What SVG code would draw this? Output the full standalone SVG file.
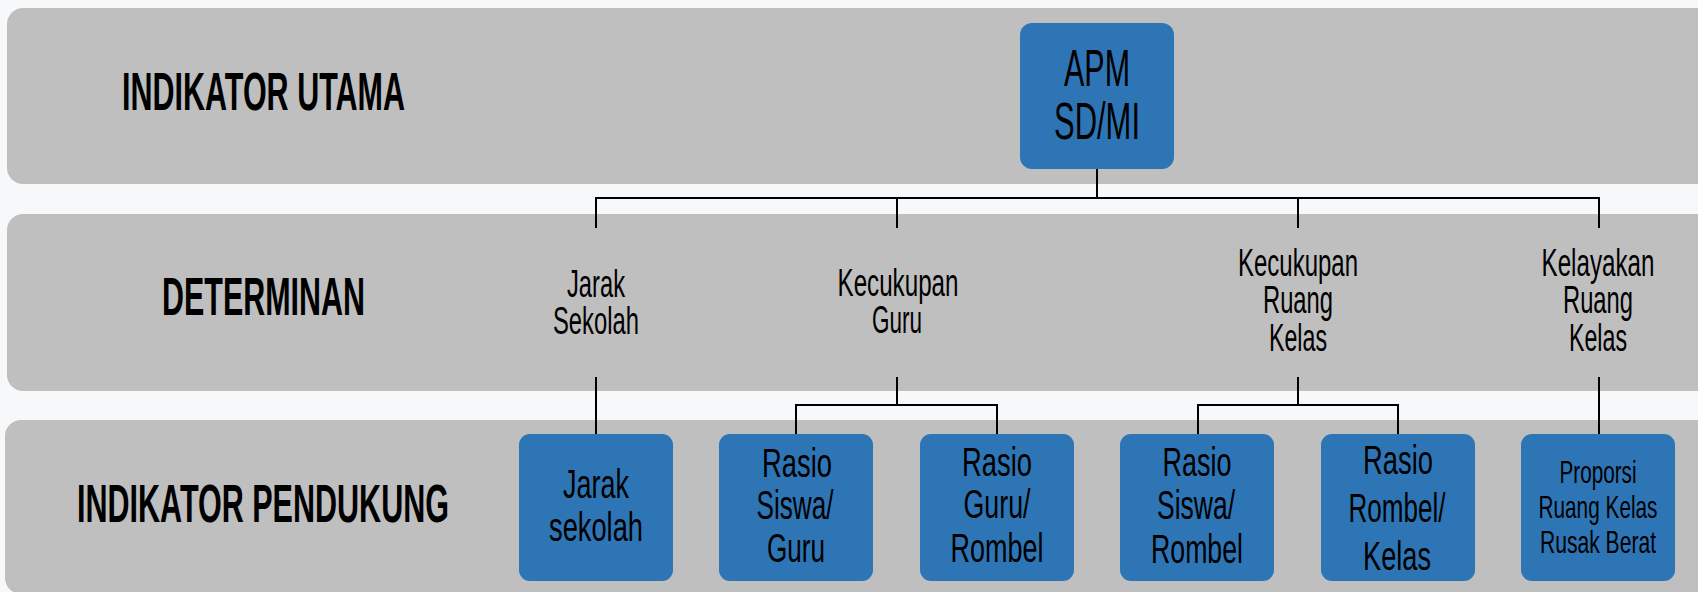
<svg xmlns="http://www.w3.org/2000/svg" width="1698" height="592" viewBox="0 0 1698 592">
  <style>
    .band { fill: #bfbfbf; }
    .box { fill: #2e75b6; }
    .hdr { font-family: "Liberation Sans", Arial, sans-serif; font-weight: bold; font-size: 54px; fill: #000; }
    .det { font-family: "Liberation Sans", Arial, sans-serif; font-size: 38px; fill: #000; text-anchor: middle; }
    .top { font-family: "Liberation Sans", Arial, sans-serif; font-size: 52px; fill: #000; text-anchor: middle; }
    .lbl { font-family: "Liberation Sans", Arial, sans-serif; font-size: 41px; fill: #000; text-anchor: middle; }
    .sml { font-family: "Liberation Sans", Arial, sans-serif; font-size: 32px; fill: #000; text-anchor: middle; }
    .wire { fill: none; stroke: #000; stroke-width: 2; }
  </style>

  <rect width="1698" height="592" fill="#f7f8fa"/>

  <!-- horizontal bands -->
  <g id="bands">
    <rect class="band" x="7" y="8" width="1720" height="176" rx="16"/>
    <rect class="band" x="7" y="214" width="1720" height="177" rx="16"/>
    <rect class="band" x="5" y="420" width="1720" height="174" rx="16"/>
  </g>

  <!-- row headings -->
  <g id="row-headings">
    <text class="hdr" x="122" y="110" textLength="283" lengthAdjust="spacingAndGlyphs">INDIKATOR UTAMA</text>
    <text class="hdr" x="162" y="315" textLength="203" lengthAdjust="spacingAndGlyphs">DETERMINAN</text>
    <text class="hdr" x="77" y="522" textLength="372" lengthAdjust="spacingAndGlyphs">INDIKATOR PENDUKUNG</text>
  </g>

  <!-- connectors -->
  <g id="connectors">
    <path class="wire" d="M1097 169 V198 M596 228 V198 H1599 V228 M897 198 V228 M1298 198 V228"/>
    <path class="wire" d="M596 377 V434"/>
    <path class="wire" d="M897 377 V405 M796 434 V405 H997 V434"/>
    <path class="wire" d="M1298 377 V405 M1198 434 V405 H1398 V434"/>
    <path class="wire" d="M1599 377 V434"/>
  </g>

  <!-- main indicator -->
  <g id="apm">
    <rect class="box" x="1020" y="23" width="154" height="146" rx="12"/>
    <text class="top" x="1097" y="86" textLength="66" lengthAdjust="spacingAndGlyphs">APM</text>
    <text class="top" x="1097" y="139" textLength="86" lengthAdjust="spacingAndGlyphs">SD/MI</text>
  </g>

  <!-- determinants -->
  <g id="det-jarak">
    <text class="det" x="596" y="297" textLength="58" lengthAdjust="spacingAndGlyphs">Jarak</text>
    <text class="det" x="596" y="334" textLength="86" lengthAdjust="spacingAndGlyphs">Sekolah</text>
  </g>
  <g id="det-guru">
    <text class="det" x="898" y="296" textLength="121" lengthAdjust="spacingAndGlyphs">Kecukupan</text>
    <text class="det" x="897" y="333" textLength="50" lengthAdjust="spacingAndGlyphs">Guru</text>
  </g>
  <g id="det-ruang">
    <text class="det" x="1298" y="276" textLength="120" lengthAdjust="spacingAndGlyphs">Kecukupan</text>
    <text class="det" x="1298" y="313" textLength="70" lengthAdjust="spacingAndGlyphs">Ruang</text>
    <text class="det" x="1298" y="351" textLength="58" lengthAdjust="spacingAndGlyphs">Kelas</text>
  </g>
  <g id="det-kelayakan">
    <text class="det" x="1598" y="276" textLength="113" lengthAdjust="spacingAndGlyphs">Kelayakan</text>
    <text class="det" x="1598" y="313" textLength="70" lengthAdjust="spacingAndGlyphs">Ruang</text>
    <text class="det" x="1598" y="351" textLength="58" lengthAdjust="spacingAndGlyphs">Kelas</text>
  </g>

  <!-- supporting indicators -->
  <g id="ind-jarak">
    <rect class="box" x="519" y="434" width="154" height="147" rx="11"/>
    <text class="lbl" x="596" y="498" textLength="66" lengthAdjust="spacingAndGlyphs">Jarak</text>
    <text class="lbl" x="596" y="541" textLength="94" lengthAdjust="spacingAndGlyphs">sekolah</text>
  </g>
  <g id="ind-siswa-guru">
    <rect class="box" x="719" y="434" width="154" height="147" rx="11"/>
    <text class="lbl" x="797" y="477" textLength="70" lengthAdjust="spacingAndGlyphs">Rasio</text>
    <text class="lbl" x="795" y="519" textLength="77" lengthAdjust="spacingAndGlyphs">Siswa/</text>
    <text class="lbl" x="796" y="562" textLength="58" lengthAdjust="spacingAndGlyphs">Guru</text>
  </g>
  <g id="ind-guru-rombel">
    <rect class="box" x="920" y="434" width="154" height="147" rx="11"/>
    <text class="lbl" x="997" y="476" textLength="70" lengthAdjust="spacingAndGlyphs">Rasio</text>
    <text class="lbl" x="997" y="518" textLength="67" lengthAdjust="spacingAndGlyphs">Guru/</text>
    <text class="lbl" x="997" y="562" textLength="93" lengthAdjust="spacingAndGlyphs">Rombel</text>
  </g>
  <g id="ind-siswa-rombel">
    <rect class="box" x="1120" y="434" width="154" height="147" rx="11"/>
    <text class="lbl" x="1197" y="476" textLength="69" lengthAdjust="spacingAndGlyphs">Rasio</text>
    <text class="lbl" x="1196" y="519" textLength="78" lengthAdjust="spacingAndGlyphs">Siswa/</text>
    <text class="lbl" x="1197" y="563" textLength="92" lengthAdjust="spacingAndGlyphs">Rombel</text>
  </g>
  <g id="ind-rombel-kelas">
    <rect class="box" x="1321" y="434" width="154" height="147" rx="11"/>
    <text class="lbl" x="1398" y="474" textLength="70" lengthAdjust="spacingAndGlyphs">Rasio</text>
    <text class="lbl" x="1397" y="522" textLength="97" lengthAdjust="spacingAndGlyphs">Rombel/</text>
    <text class="lbl" x="1397" y="570" textLength="68" lengthAdjust="spacingAndGlyphs">Kelas</text>
  </g>
  <g id="ind-proporsi">
    <rect class="box" x="1521" y="434" width="154" height="147" rx="11"/>
    <text class="sml" x="1598" y="483" textLength="77" lengthAdjust="spacingAndGlyphs">Proporsi</text>
    <text class="sml" x="1598" y="518" textLength="119" lengthAdjust="spacingAndGlyphs">Ruang Kelas</text>
    <text class="sml" x="1598" y="553" textLength="116" lengthAdjust="spacingAndGlyphs">Rusak Berat</text>
  </g>
</svg>
